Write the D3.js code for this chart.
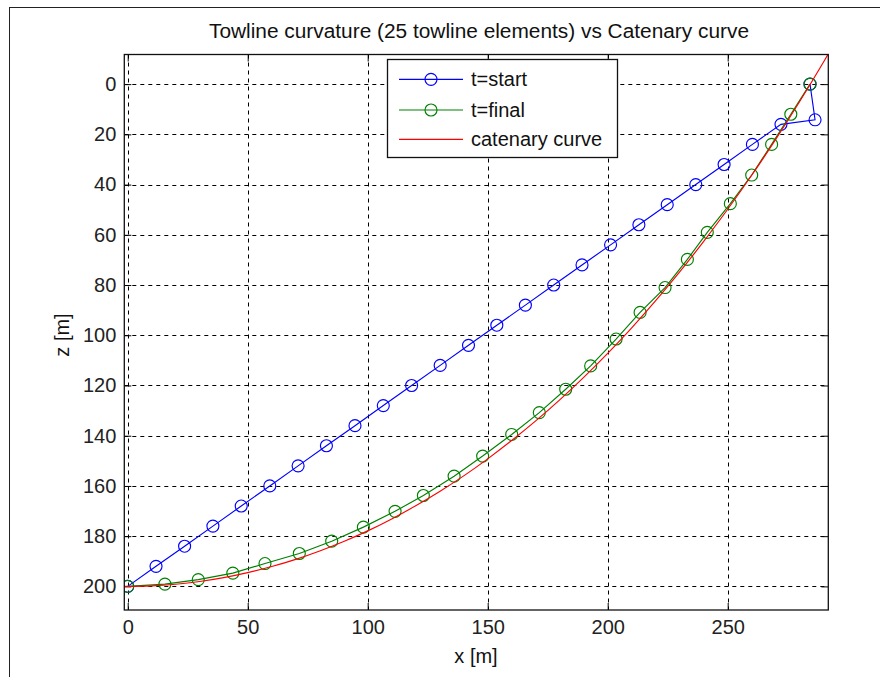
<!DOCTYPE html>
<html>
<head>
<meta charset="utf-8">
<script src="https://cdn.jsdelivr.net/npm/d3@7/dist/d3.min.js"></script>
<style>
  html, body { margin: 0; padding: 0; background: #fff; }
  svg { display: block; font-family: "Liberation Sans", Arial, Helvetica, sans-serif; }
</style>
</head>
<body>
<svg id="chart" width="880" height="677"></svg>
<script>
// ---------- data ----------
const titleText = "Towline curvature (25 towline elements) vs Catenary curve";
const xLabel = "x [m]";
const zLabel = "z [m]";
const seriesNames = ["t=start", "t=final", "catenary curve"];
const seriesColors = ["#0000ff", "#008000", "#ff0000"];

const xTicks = [0, 50, 100, 150, 200, 250];
const zTicks = [0, 20, 40, 60, 80, 100, 120, 140, 160, 180, 200];

// t=start (26 nodes)
const startX = [0, 11.8, 23.7, 35.5, 47.3, 59.2, 71.0, 82.8, 94.7, 106.5, 118.3, 130.2, 142.0,
                153.8, 165.7, 177.5, 189.3, 201.2, 213.0, 224.8, 236.7, 248.5, 260.3, 272.2, 286.4, 284.3];
const startZ = [200, 192, 184, 176, 168, 160, 152, 144, 136, 128, 120, 112, 104,
                96, 88, 80, 72, 64, 56, 48, 40, 32, 24, 16, 14.2, 0];

// t=final (26 nodes)
const finalX = [0, 15.5, 29.4, 43.8, 57.2, 71.5, 85.0, 98.2, 111.4, 123.2, 136.0, 147.9, 160.0,
                171.5, 182.5, 192.9, 203.5, 213.5, 223.9, 233.2, 241.5, 251.1, 260.0, 268.3, 276.3, 284.3];
const finalZ = [200, 199.1, 197.3, 194.7, 190.9, 186.9, 182.0, 176.4, 170.1, 163.8, 156.1, 148.1, 139.5,
                130.8, 121.5, 112.2, 101.5, 90.9, 81.0, 69.8, 59.0, 47.6, 36.2, 24.0, 12.0, 0];

// catenary curve (sampled)
const catX = [-1.4, 10, 20, 30, 40, 50, 60, 70, 80, 90, 100, 110, 120, 130, 140, 150, 160, 170,
              180, 190, 200, 210, 220, 230, 240, 250, 260, 270, 280, 290, 291.9];
const catZ = [200, 199.78, 199.13, 198.04, 196.5, 194.53, 192.1, 189.24, 185.9, 182.13, 177.9, 173.13,
              167.9, 162.19, 156.0, 149.21, 141.9, 134.1, 125.7, 116.75, 107.2, 97.03, 86.2, 74.77,
              62.6, 49.83, 36.3, 21.99, 6.9, -8.94, -12.04];

const xDomain = [-1.42, 291.92];
const zDomain = [-11.8, 209.4];

// ---------- layout ----------
const svg = d3.select("#chart");
const L = 124.3, R = 828.3, T = 54.5, B = 610;

const x = d3.scaleLinear().domain(xDomain).range([L, R]);
const z = d3.scaleLinear().domain(zDomain).range([T, B]);

// figure frame
svg.append("rect").attr("x", 9.5).attr("y", 7.5).attr("width", 900).attr("height", 700)
  .attr("fill", "#fff").attr("stroke", "#222").attr("stroke-width", 1);

// plot background
svg.append("rect").attr("x", L).attr("y", T).attr("width", R - L).attr("height", B - T).attr("fill", "#fff");

// grid
const grid = svg.append("g").attr("stroke", "#000").attr("stroke-width", 1).attr("stroke-dasharray", "4,4");
grid.selectAll("line.gx").data(xTicks).join("line")
  .attr("x1", d => Math.round(x(d)) + 0.5).attr("x2", d => Math.round(x(d)) + 0.5)
  .attr("y1", T).attr("y2", B);
grid.selectAll("line.gz").data(zTicks).join("line")
  .attr("y1", d => Math.round(z(d)) + 0.5).attr("y2", d => Math.round(z(d)) + 0.5)
  .attr("x1", L).attr("x2", R);

// axes
function styleAxis(g) {
  g.select(".domain").remove();
  g.selectAll(".tick line").attr("stroke", "#000").attr("stroke-width", 1);
  g.selectAll(".tick text").attr("fill", "#222").style("font-size", "20px")
    .style("font-family", '"Liberation Sans", Arial, sans-serif');
}
svg.append("g").attr("transform", `translate(0,${B})`)
  .call(d3.axisBottom(x).tickValues(xTicks).tickSizeInner(-7).tickSizeOuter(0).tickPadding(10).tickFormat(d3.format("d")))
  .call(styleAxis);
svg.append("g").attr("transform", `translate(0,${T})`)
  .call(d3.axisTop(x).tickValues(xTicks).tickSizeInner(-7).tickSizeOuter(0).tickFormat(""))
  .call(styleAxis);
svg.append("g").attr("transform", `translate(${L},0)`)
  .call(d3.axisLeft(z).tickValues(zTicks).tickSizeInner(-7).tickSizeOuter(0).tickPadding(8).tickFormat(d3.format("d")))
  .call(styleAxis);
svg.append("g").attr("transform", `translate(${R},0)`)
  .call(d3.axisRight(z).tickValues(zTicks).tickSizeInner(-7).tickSizeOuter(0).tickFormat(""))
  .call(styleAxis);

// clip
svg.append("defs").append("clipPath").attr("id", "clip")
  .append("rect").attr("x", L).attr("y", T).attr("width", R - L).attr("height", B - T);

const plot = svg.append("g").attr("clip-path", "url(#clip)");
const line = d3.line().x(d => x(d[0])).y(d => z(d[1]));

const startData = startX.map((v, i) => [v, startZ[i]]);
const finalData = finalX.map((v, i) => [v, finalZ[i]]);
const catData = catX.map((v, i) => [v, catZ[i]]);

const SW = 1.15;
plot.append("path").datum(startData).attr("d", line).attr("fill", "none")
  .attr("stroke", seriesColors[0]).attr("stroke-width", SW);
plot.append("g").selectAll("circle").data(startData).join("circle")
  .attr("cx", d => x(d[0])).attr("cy", d => z(d[1])).attr("r", 6)
  .attr("fill", "none").attr("stroke", seriesColors[0]).attr("stroke-width", SW);

plot.append("path").datum(finalData).attr("d", line).attr("fill", "none")
  .attr("stroke", seriesColors[1]).attr("stroke-width", SW);
plot.append("g").selectAll("circle").data(finalData).join("circle")
  .attr("cx", d => x(d[0])).attr("cy", d => z(d[1])).attr("r", 6)
  .attr("fill", "none").attr("stroke", seriesColors[1]).attr("stroke-width", SW);

plot.append("path").datum(catData).attr("d", line.curve(d3.curveMonotoneX)).attr("fill", "none")
  .attr("stroke", seriesColors[2]).attr("stroke-width", SW);

// box
svg.append("rect").attr("x", L).attr("y", T).attr("width", R - L).attr("height", B - T)
  .attr("fill", "none").attr("stroke", "#111").attr("stroke-width", 1.3);

// title & labels
const tf = '"Liberation Sans", Arial, sans-serif';
svg.append("text").attr("x", 479).attr("y", 38).attr("text-anchor", "middle")
  .style("font-size", "20px").style("font-family", tf).attr("fill", "#111").text(titleText)
  .attr("textLength", 540).attr("lengthAdjust", "spacingAndGlyphs");
svg.append("text").attr("x", 476).attr("y", 663).attr("text-anchor", "middle")
  .style("font-size", "20px").style("font-family", tf).attr("fill", "#111").text(xLabel);
svg.append("text").attr("transform", "translate(69,335) rotate(-90)").attr("text-anchor", "middle")
  .style("font-size", "20px").style("font-family", tf).attr("fill", "#111").text(zLabel);

// legend
const lg = svg.append("g");
lg.append("rect").attr("x", 387.5).attr("y", 59.5).attr("width", 230).attr("height", 98)
  .attr("fill", "#fff").attr("stroke", "#111").attr("stroke-width", 1.3);
const legY = [79.3, 110, 139.3];
seriesNames.forEach((name, i) => {
  lg.append("line").attr("x1", 399).attr("x2", 463).attr("y1", legY[i]).attr("y2", legY[i])
    .attr("stroke", seriesColors[i]).attr("stroke-width", SW);
  if (i < 2) {
    lg.append("circle").attr("cx", 431).attr("cy", legY[i]).attr("r", 6)
      .attr("fill", "none").attr("stroke", seriesColors[i]).attr("stroke-width", SW);
  }
  lg.append("text").attr("x", 471).attr("y", legY[i] + 7)
    .style("font-size", "20px").style("font-family", tf).attr("fill", "#111").text(name);
});
</script>
</body>
</html>
